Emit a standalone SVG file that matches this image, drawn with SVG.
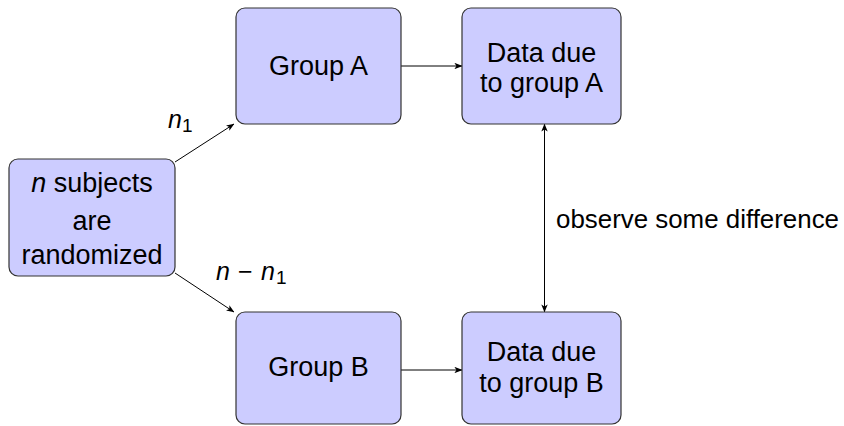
<svg xmlns="http://www.w3.org/2000/svg" width="844" height="426" viewBox="0 0 844 426">
  <style>
    .box { fill: #ccccff; stroke: #333333; stroke-width: 1.2; }
    .lbl { font-family: "Liberation Sans", Arial, sans-serif; font-size: 27px; fill: #000000; text-anchor: middle; }
    .free { font-family: "Liberation Sans", Arial, sans-serif; font-size: 26px; fill: #000000; }
    .math { font-family: "Liberation Sans", Arial, sans-serif; font-size: 25px; fill: #000000; }
    .edge { stroke: #000000; stroke-width: 1; fill: none; }
  </style>
  <defs>
    <marker id="tip" viewBox="0 0 10 8" refX="9.5" refY="4" markerWidth="8" markerHeight="6.4" markerUnits="userSpaceOnUse" orient="auto-start-reverse">
      <path d="M0,0 L10,4 L0,8 L2.5,4 Z" fill="#000000"/>
    </marker>
  </defs>

  <g id="connectors">
    <line class="edge" x1="175" y1="162" x2="234" y2="124" marker-end="url(#tip)"/>
    <line class="edge" x1="175" y1="273" x2="234" y2="312" marker-end="url(#tip)"/>
    <line class="edge" x1="401" y1="66" x2="462" y2="66" marker-end="url(#tip)"/>
    <line class="edge" x1="401" y1="370" x2="462" y2="370" marker-end="url(#tip)"/>
    <line class="edge" x1="544.5" y1="124" x2="544.5" y2="312" marker-start="url(#tip)" marker-end="url(#tip)"/>
    <text class="math" x="168" y="128"><tspan font-style="italic">n</tspan><tspan x="182" font-size="19" dy="4">1</tspan></text>
    <text class="math" y="280"><tspan x="216" font-style="italic">n</tspan><tspan x="238">−</tspan><tspan x="261" font-style="italic">n</tspan><tspan x="276" font-size="19" dy="4">1</tspan></text>
    <text class="free" x="556" y="228" textLength="283" lengthAdjust="spacingAndGlyphs">observe some difference</text>
  </g>

  <g id="subjects">
    <rect class="box" x="9" y="159" width="166" height="117" rx="9"/>
    <text class="lbl" x="92" y="192"><tspan font-style="italic">n</tspan> subjects</text>
    <text class="lbl" x="92" y="230">are</text>
    <text class="lbl" x="92" y="264">randomized</text>
  </g>

  <g id="groupA">
    <rect class="box" x="236" y="8" width="165" height="116" rx="9"/>
    <text class="lbl" x="318.5" y="75">Group A</text>
  </g>

  <g id="dataA">
    <rect class="box" x="462" y="8" width="159" height="116" rx="9"/>
    <text class="lbl" x="541.5" y="62">Data due</text>
    <text class="lbl" x="541.5" y="92">to group A</text>
  </g>

  <g id="groupB">
    <rect class="box" x="236" y="312" width="165" height="112" rx="9"/>
    <text class="lbl" x="318.5" y="376">Group B</text>
  </g>

  <g id="dataB">
    <rect class="box" x="462" y="312" width="159" height="112" rx="9"/>
    <text class="lbl" x="541.5" y="361">Data due</text>
    <text class="lbl" x="541.5" y="392">to group B</text>
  </g>
</svg>
